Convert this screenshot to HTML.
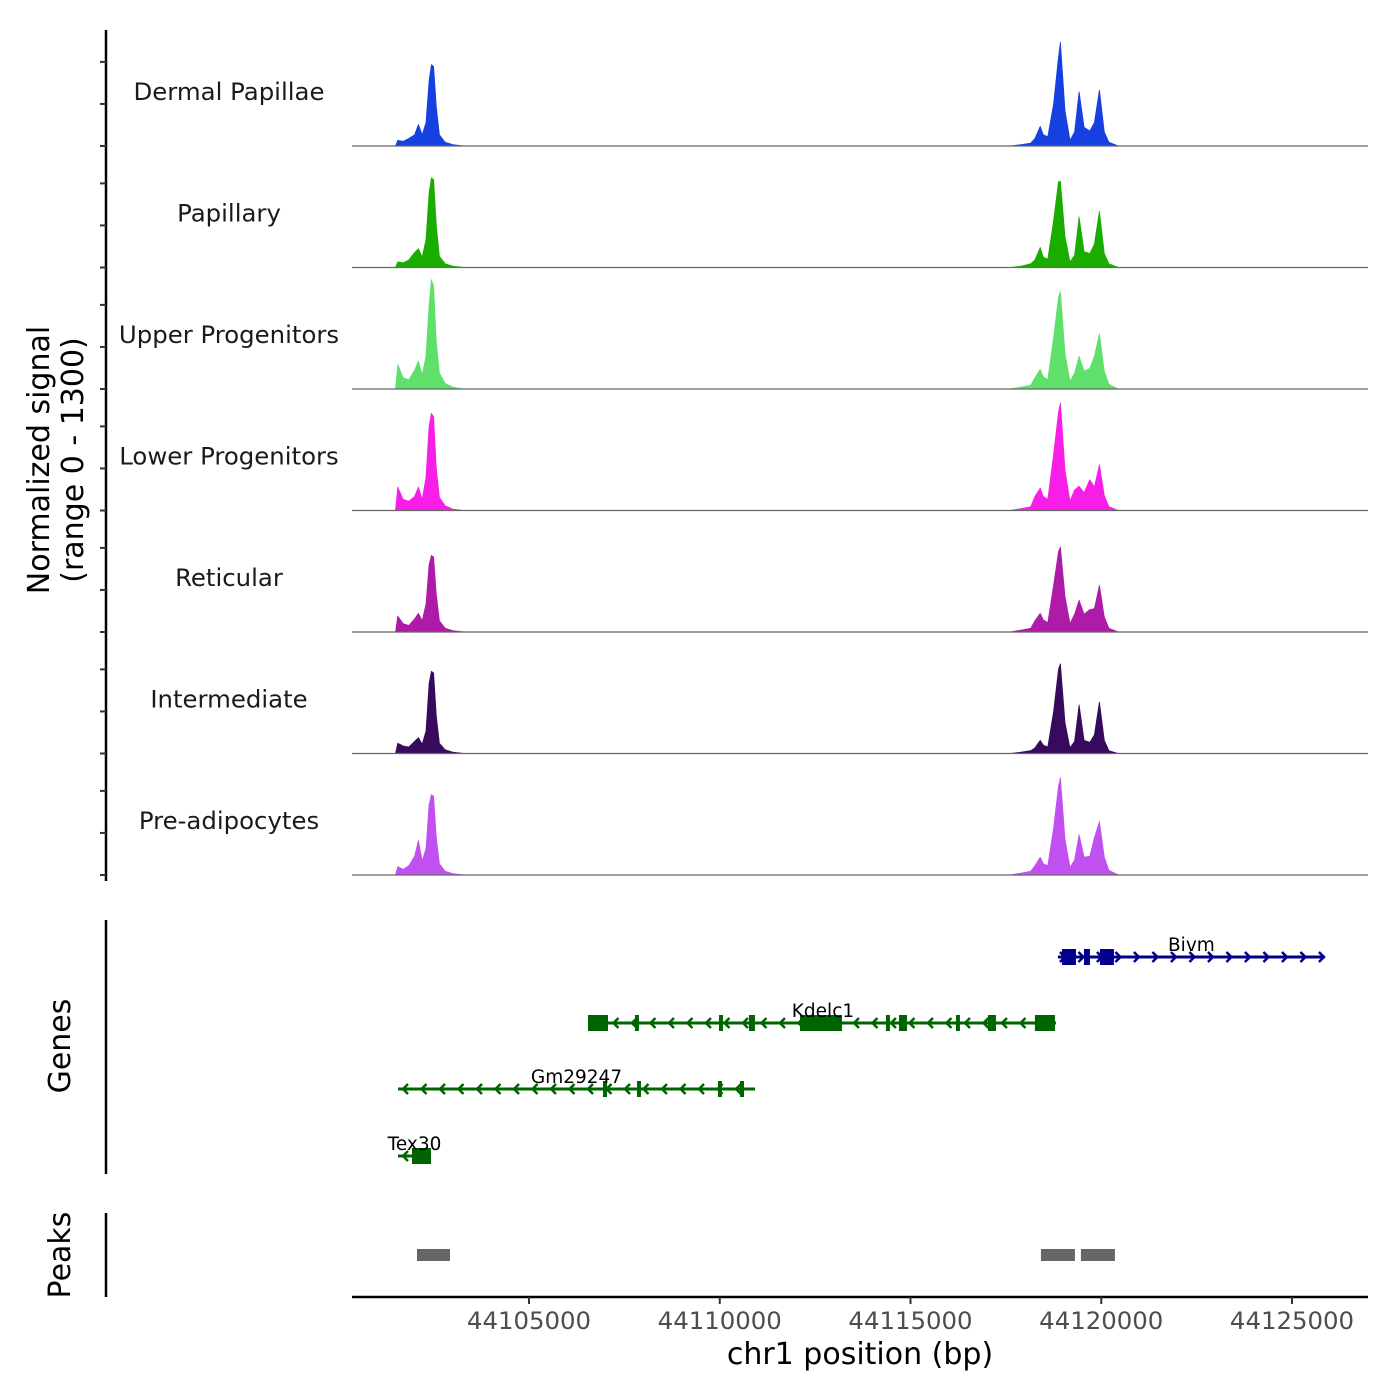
<!DOCTYPE html>
<html><head><meta charset="utf-8"><style>
body{margin:0;background:#fff}
svg{display:block;font-family:"DejaVu Sans","Liberation Sans",sans-serif}
</style></head><body>
<svg id="c" width="1400" height="1400" viewBox="0 0 1400 1400"></svg>
<script>
const trackNames=["Dermal Papillae","Papillary","Upper Progenitors","Lower Progenitors","Reticular","Intermediate","Pre-adipocytes"];
const trackColors=["#1640e0","#1aad00","#5ee06a","#f81ee8","#b01aa8","#380a5e","#c050f0"];
const positions=[44101500,44101560,44101700,44101850,44102000,44102100,44102200,44102300,44102380,44102440,44102500,44102570,44102650,44102800,44103000,44103300,44117600,44117900,44118150,44118260,44118400,44118480,44118600,44118750,44118880,44118930,44119050,44119180,44119300,44119420,44119550,44119700,44119820,44119950,44120080,44120200,44120450];
const sigDP=[0,60,50,80,120,230,120,250,700,870,850,420,120,40,15,0,0,15,30,80,210,120,100,450,950,1110,380,60,150,580,200,160,250,600,150,40,0];
const sigPap=[0,60,50,80,160,200,110,300,800,960,940,450,120,40,15,0,0,15,40,80,215,110,90,500,920,920,330,60,130,540,170,150,250,600,150,40,0];
const sigUpper=[0,260,120,100,200,300,150,350,900,1170,1100,500,170,60,20,0,0,20,40,120,210,130,100,550,980,1040,380,80,170,350,190,220,350,590,190,50,0];
const sigLower=[0,250,120,100,150,250,120,350,900,1040,1000,450,140,50,15,0,0,20,40,150,240,150,120,600,1050,1150,430,100,220,260,190,330,250,490,160,40,0];
const sigRet=[0,170,90,70,140,200,120,300,720,820,800,400,120,40,15,0,0,20,40,120,200,130,100,500,860,910,380,90,190,340,190,240,250,500,160,40,0];
const sigInt=[0,110,80,70,130,170,100,240,750,880,860,400,110,40,15,0,0,15,30,60,140,90,70,450,900,960,330,60,130,520,140,120,200,550,140,30,0];
const sigPre=[0,90,60,100,200,370,150,280,750,860,840,400,120,40,15,0,0,20,40,100,190,120,100,500,950,1040,380,80,160,430,190,200,400,570,190,50,0];
const signals=[sigDP,sigPap,sigUpper,sigLower,sigRet,sigInt,sigPre];
const xTicks=[44105000,44110000,44115000,44120000,44125000];
const geneNames=["Bivm","Kdelc1","Gm29247","Tex30"];
const geneStart=[44118864,44106598,44101566,44101566];
const geneEnd=[44125862,44118813,44110924,44102431];
const geneStrand=[1,-1,-1,-1];
const geneColors=["#00008b","#006400","#006400","#006400"];
const geneExons=[
 [[44118970,44119337],[44119546,44119703],[44119965,44120332]],
 [[44106546,44107070],[44107777,44107882],[44109979,44110084],[44110765,44110923],[44112102,44113203],[44114356,44114461],[44114697,44114907],[44116191,44116296],[44117030,44117240],[44118261,44118786]],
 [[44106939,44107044],[44107830,44107935],[44109953,44110058],[44110530,44110635]],
 [[44101933,44102431]]];
const peakStart=[44102064,44118419,44119467];
const peakEnd=[44102929,44119310,44120358];

const NS="http://www.w3.org/2000/svg";
const svg=document.getElementById('c');
function el(t,a,p){const e=document.createElementNS(NS,t);for(const k in a)e.setAttribute(k,a[k]);(p||svg).appendChild(e);return e;}
const X0=352,X1=1368,D0=44100360,D1=44126992;
const xs=p=>X0+(p-D0)/(D1-D0)*(X1-X0);
const TH=121.5,B0=146,YMAX=1300;
const ys=(v,i)=>B0+i*TH-v/YMAX*TH;

let ax=el('line',{x1:106,y1:30,x2:106,y2:881,stroke:'#000','stroke-width':2.5});


for(let i=0;i<7;i++){
 const b=B0+i*TH;
 for(const v of [0,450,900]){
  const y=b-v/YMAX*TH;
  const t=el('line',{x1:100,x2:106,y1:y,y2:y,stroke:'#333','stroke-width':2});
  
  
 }
}
const yt=el('text',{transform:'translate(54,460) rotate(-90)','text-anchor':'middle','font-size':30});


yt.innerHTML='<tspan x="0" dy="-5">Normalized signal</tspan><tspan x="0" dy="34">(range 0 - 1300)</tspan>';

for(let i=0;i<7;i++){
 const g=el('g',{});
 
 
 const lab=el('text',{x:229,y:B0+i*TH-46,'text-anchor':'middle','font-size':24.4,fill:'#1a1a1a'},g);
 lab.textContent=trackNames[i];
 
 
 const b=B0+i*TH;
 let d='M'+xs(positions[0])+','+b;
 positions.forEach((p,j)=>{d+=' L'+xs(p).toFixed(1)+','+ys(signals[i][j],i).toFixed(1);});
 d+=' L'+xs(positions[positions.length-1])+','+b+' Z';
 const a=el('path',{d:d,fill:trackColors[i],stroke:trackColors[i],'stroke-width':0.8,'stroke-linejoin':'round'},g);
 
 
 const bl=el('line',{x1:X0,x2:X1,y1:b,y2:b,stroke:'#666','stroke-width':1.2},g);
 
 
}

const ga=el('line',{x1:106,y1:920,x2:106,y2:1174,stroke:'#000','stroke-width':2.5});


const gt=el('text',{transform:'translate(70,1046) rotate(-90)','text-anchor':'middle','font-size':30});
gt.textContent='Genes';


const geneY=[957,1023,1089,1156];
for(let i=0;i<geneNames.length;i++){
 const g=el('g',{});
 
 
 const y=geneY[i],c=geneColors[i];
 const xa=xs(geneStart[i]),xb=xs(geneEnd[i]);
 el('line',{x1:xa,x2:xb,y1:y,y2:y,stroke:c,'stroke-width':3},g);
 for(let x=xa+6;x<=xb;x+=18.5){
  const s=geneStrand[i];
  el('polyline',{points:`${x-4*s},${y-5} ${x+1*s},${y} ${x-4*s},${y+5}`,fill:'none',stroke:c,'stroke-width':2.5},g);
 }
 geneExons[i].forEach(e=>{
  const r=el('rect',{x:xs(e[0]),y:y-8,width:Math.max(3,xs(e[1])-xs(e[0])),height:16,fill:c},g);
  
  
 });
 const t=el('text',{x:(xa+xb)/2,y:y-6,'text-anchor':'middle','font-size':18.5,fill:'#000'},g);
 t.textContent=geneNames[i];
}

const pa=el('line',{x1:106,y1:1213,x2:106,y2:1297,stroke:'#000','stroke-width':2.5});


const pt=el('text',{transform:'translate(70,1255) rotate(-90)','text-anchor':'middle','font-size':30});
pt.textContent='Peaks';


for(let i=0;i<peakStart.length;i++){
 const r=el('rect',{x:xs(peakStart[i]),y:1249,width:xs(peakEnd[i])-xs(peakStart[i]),height:12,fill:'#666'});
 
 
}

const xa=el('line',{x1:X0,x2:X1,y1:1297,y2:1297,stroke:'#000','stroke-width':2.5});


xTicks.forEach(v=>{
 const x=xs(v);
 const t=el('line',{x1:x,x2:x,y1:1297,y2:1304,stroke:'#333','stroke-width':2});
 
 
 const l=el('text',{x:x,y:1329,'text-anchor':'middle','font-size':24.4,fill:'#4d4d4d'});
 l.textContent=v;
 
 
});
const xt=el('text',{x:860,y:1364,'text-anchor':'middle','font-size':30});
xt.textContent='chr1 position (bp)';


</script>
</body></html>
